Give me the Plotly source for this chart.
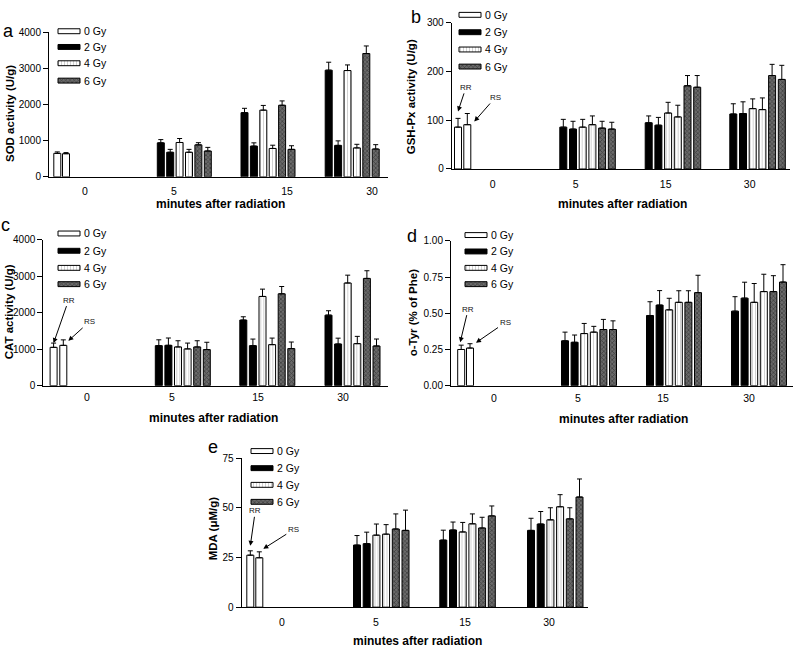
import plotly.graph_objects as go

W, H = 800, 661
FONT = "Liberation Sans, Arial, sans-serif"

# ---------------- data ----------------
time_labels = ["0", "5", "15", "30"]
dose_names = ["0 Gy", "2 Gy", "4 Gy", "6 Gy"]
# order for irradiated doses: [5 RR, 5 RS, 15 RR, 15 RS, 30 RR, 30 RS]

sod_0 = [650, 640]
sod_0_err = [40, 30]
sod_2 = [940, 680, 1775, 850, 2950, 870]
sod_2_err = [90, 80, 120, 90, 220, 125]
sod_4 = [950, 680, 1845, 785, 2940, 800]
sod_4_err = [110, 80, 130, 90, 155, 100]
sod_6 = [885, 715, 1980, 760, 3410, 770]
sod_6_err = [60, 100, 120, 100, 210, 120]

gsh_0 = [86, 91]
gsh_0_err = [18, 23]
gsh_2 = [86, 82, 95, 90, 113, 114]
gsh_2_err = [16, 16, 14, 16, 21, 24]
gsh_4 = [86, 91, 115, 107, 124, 122]
gsh_4_err = [16, 18, 22, 24, 20, 24]
gsh_6 = [84, 82, 171, 168, 192, 184]
gsh_6_err = [14, 14, 21, 24, 23, 29]

cat_0 = [1050, 1105]
cat_0_err = [117, 150]
cat_2 = [1097, 1106, 1798, 1097, 1933, 1142]
cat_2_err = [160, 200, 90, 180, 120, 160]
cat_4 = [1061, 1007, 2445, 1124, 2813, 1151]
cat_4_err = [170, 160, 200, 180, 215, 200]
cat_6 = [1061, 989, 2517, 1016, 2939, 1088]
cat_6_err = [170, 200, 200, 180, 210, 190]

tyr_0 = [0.25, 0.26]
tyr_0_err = [0.03, 0.03]
tyr_2 = [0.31, 0.30, 0.485, 0.557, 0.515, 0.605]
tyr_2_err = [0.06, 0.05, 0.095, 0.10, 0.10, 0.11]
tyr_4 = [0.36, 0.37, 0.524, 0.576, 0.576, 0.65]
tyr_4_err = [0.07, 0.04, 0.08, 0.08, 0.13, 0.12]
tyr_6 = [0.388, 0.388, 0.576, 0.643, 0.65, 0.716]
tyr_6_err = [0.07, 0.06, 0.08, 0.12, 0.11, 0.12]

mda_0 = [26.2, 24.9]
mda_0_err = [2.2, 3.0]
mda_2 = [31.3, 32.0, 33.8, 38.9, 38.7, 41.9]
mda_2_err = [4.8, 5.8, 5.0, 4.0, 6.1, 6.3]
mda_4 = [36.3, 36.8, 37.9, 42.0, 44.0, 50.6]
mda_4_err = [5.6, 4.8, 4.8, 5.0, 6.1, 6.1]
mda_6 = [39.4, 38.7, 39.9, 46.0, 44.5, 55.5]
mda_6_err = [7.6, 10.2, 5.4, 5.0, 5.6, 9.1]

# ---------------- styles ----------------
STYLES = {
    "0 Gy": dict(color="white"),
    "2 Gy": dict(color="black"),
    "4 Gy": dict(color="white", pattern=dict(shape="|", fgcolor="#9a9a9a", bgcolor="white",
                                              size=3, solidity=0.3)),
    "6 Gy": dict(color="#4a4a4a", pattern=dict(shape="x", fgcolor="#151515", bgcolor="#6a6a6a",
                                                size=3, solidity=0.45)),
}

# ---------------- panel layout (pixels) ----------------
panels = [
    dict(key="a", title="SOD activity (U/g)", d0=sod_0, e0=sod_0_err,
         d=[sod_2, sod_4, sod_6], e=[sod_2_err, sod_4_err, sod_6_err],
         ox=49, w=339, ytop=26.7, ybot=174, ymax=4000, dtick=1000, fmt="d",
         g0=[8.3, 17], starts=[111.8, 195.5, 279.7], pitch=9.4, ticks=[36, 125, 238, 323],
         ticklen=5, letter=(8.5, 25), ytit=(10, 110), xtit=(220, 202),
         leg=(58, [25.7, 41.7, 58.3, 76]), arrows=None),
    dict(key="b", title="GSH-Px activity (U/g)", d0=gsh_0, e0=gsh_0_err,
         d=[gsh_2, gsh_4, gsh_6], e=[gsh_2_err, gsh_4_err, gsh_6_err],
         ox=451.7, w=338, ytop=17.3, ybot=166, ymax=300, dtick=100, fmt="d",
         g0=[6.3, 15.6], starts=[111.6, 197, 281.6], pitch=9.7, ticks=[41, 124, 214, 298],
         ticklen=5, letter=(416, 11), ytit=(411, 93), xtit=(622, 202),
         leg=(459, [9, 26.7, 44.3, 61.7]),
         arrows=[(0, 7, 8, -24), (7, -8, 21, -24)]),
    dict(key="c", title="CAT activity (U/g)", d0=cat_0, e0=cat_0_err,
         d=[cat_2, cat_4, cat_6], e=[cat_2_err, cat_4_err, cat_6_err],
         ox=43.3, w=344.7, ytop=238, ybot=386.7, ymax=4000, dtick=1000, fmt="d",
         g0=[10.3, 20], starts=[115.5, 200, 285.2], pitch=9.6, ticks=[43.7, 128.7, 214.7, 299.7],
         ticklen=2, letter=(5, 223), ytit=(9, 312), xtit=(213, 420),
         leg=(58, [231.7, 249.3, 266.7, 283.3]),
         arrows=[(0, 0, 15, -43), (5, -1, 21, -19)]),
    dict(key="d", title="o-Tyr (% of Phe)", d0=tyr_0, e0=tyr_0_err,
         d=[tyr_2, tyr_4, tyr_6], e=[tyr_2_err, tyr_4_err, tyr_6_err],
         ox=451, w=342, ytop=239.3, ybot=386.7, ymax=1.0, dtick=0.25, fmt=".2f",
         g0=[10.2, 19], starts=[114, 199, 284], pitch=9.6, ticks=[43, 127, 212, 298],
         ticklen=3, letter=(412, 234), ytit=(413, 313), xtit=(623, 421),
         leg=(465, [233.3, 250, 266.7, 283.3]),
         arrows=[(-1, 3, 8, -33), (6, 1, 29, -20)]),
    dict(key="e", title="MDA (\u03bcM/g)", d0=mda_0, e0=mda_0_err,
         d=[mda_2, mda_4, mda_6], e=[mda_2_err, mda_4_err, mda_6_err],
         ox=241.5, w=346.5, ytop=460.7, ybot=612.3, ymax=75, dtick=25, fmt="d",
         g0=[8.8, 17.8], starts=[115.5, 201.8, 289.5], pitch=9.7, ticks=[40.5, 134.5, 223.5, 307.5],
         ticklen=5, letter=(213, 449), ytit=(213, 532), xtit=(417, 647),
         leg=(251, [453.3, 470.7, 487.7, 505]),
         arrows=[(0, 5, 5, -35), (4, 3, 30, -19)]),
]

BAR_W = 7
fig = go.Figure()
layout = dict(width=W, height=H, margin=dict(l=0, r=0, t=0, b=0),
              paper_bgcolor="white", plot_bgcolor="rgba(0,0,0,0)",
              barmode="overlay", showlegend=False,
              font=dict(family=FONT, color="black", size=10))
annotations = []


def px2paper(x, y):
    return x / W, 1 - y / H


for i, p in enumerate(panels):
    n = i + 1
    xa = "x" if n == 1 else f"x{n}"
    ya = "y" if n == 1 else f"y{n}"
    fig.add_trace(go.Bar(
        x=p["g0"], y=p["d0"], width=BAR_W, xaxis=xa, yaxis=ya,
        marker=dict(line=dict(color="black", width=1), **STYLES["0 Gy"]),
        error_y=dict(type="data", array=p["e0"], arrayminus=[0] * len(p["e0"]), symmetric=False,
                     color="black", thickness=1, width=2.5),
        name="0 Gy"))
    for k, dose in enumerate(dose_names[1:]):
        xs = []
        for g in range(3):
            for r in range(2):
                xs.append(p["starts"][g] + (2 * k + r) * p["pitch"])
        fig.add_trace(go.Bar(
            x=xs, y=p["d"][k], width=BAR_W, xaxis=xa, yaxis=ya,
            marker=dict(line=dict(color="black", width=1), **STYLES[dose]),
            error_y=dict(type="data", array=p["e"][k], arrayminus=[0] * 6, symmetric=False,
                         color="black", thickness=1, width=2.5),
            name=dose))

    x0, x1 = p["ox"] / W, (p["ox"] + p["w"]) / W
    y0, y1 = 1 - p["ybot"] / H, 1 - p["ytop"] / H
    xkey = "xaxis" if n == 1 else f"xaxis{n}"
    ykey = "yaxis" if n == 1 else f"yaxis{n}"
    layout[xkey] = dict(domain=[x0, x1], anchor=ya, range=[0, p["w"]], showline=True,
                        linecolor="black", linewidth=1, showgrid=False, zeroline=False,
                        tickmode="array", tickvals=p["ticks"], ticktext=time_labels,
                        ticks="outside", ticklen=p["ticklen"], tickcolor="rgba(0,0,0,0)",
                        tickfont=dict(size=10.5, family=FONT, color="black"), fixedrange=True)
    tv = []
    v = 0.0
    while v <= p["ymax"] + 1e-9:
        tv.append(round(v, 4))
        v += p["dtick"]
    layout[ykey] = dict(domain=[y0, y1], anchor=xa, range=[0, p["ymax"]], showline=True,
                        linecolor="black", linewidth=1, showgrid=False, zeroline=False,
                        tickmode="array", tickvals=tv,
                        ticktext=[(f"{t:.2f}" if p["fmt"] == ".2f" else f"{int(t)}") for t in tv],
                        ticks="outside", ticklen=5, tickwidth=1, tickcolor="black",
                        tickfont=dict(size=10, family=FONT, color="black"), fixedrange=True)

    lx, ly = px2paper(*p["letter"])
    annotations.append(dict(text=p["key"], x=lx, y=ly, xref="paper", yref="paper",
                            showarrow=False, xanchor="center", yanchor="middle",
                            font=dict(size=18, family=FONT, color="black")))
    tx, ty = px2paper(*p["ytit"])
    annotations.append(dict(text=f"<b>{p['title']}</b>", x=tx, y=ty, xref="paper", yref="paper",
                            showarrow=False, textangle=-90, xanchor="center", yanchor="middle",
                            font=dict(size=11.5, family=FONT, color="black")))
    tx, ty = px2paper(*p["xtit"])
    annotations.append(dict(text="<b>minutes after radiation</b>", x=tx, y=ty, xref="paper",
                            yref="paper", showarrow=False, xanchor="center", yanchor="middle",
                            font=dict(size=12, family=FONT, color="black")))
    if p["arrows"]:
        for j, (dx, dy, ax, ay) in enumerate(p["arrows"]):
            annotations.append(dict(text=["RR", "RS"][j], x=p["g0"][j], y=p["d0"][j] + p["e0"][j],
                                    xref=xa, yref=ya, xshift=dx, yshift=dy, ax=ax, ay=ay,
                                    showarrow=True, arrowhead=2, arrowsize=1, arrowwidth=1,
                                    arrowcolor="black",
                                    font=dict(size=8, family=FONT, color="#111111")))

    lgx, rows = p["leg"]
    for k, dose in enumerate(dose_names):
        fig.add_trace(go.Bar(
            x=[22], base=[lgx], y=[rows[k]], width=5, orientation="h",
            xaxis="x6", yaxis="y6",
            marker=dict(line=dict(color="black", width=1), **STYLES[dose]),
            hoverinfo="skip", name=dose))
        tx, ty = px2paper(lgx + 24, rows[k])
        annotations.append(dict(text=dose, x=tx, y=ty, xref="paper", yref="paper",
                                showarrow=False, xanchor="left", yanchor="middle",
                                font=dict(size=10.5, family=FONT, color="black")))

layout["xaxis6"] = dict(domain=[0, 1], anchor="y6", range=[0, W], visible=False, fixedrange=True)
layout["yaxis6"] = dict(domain=[0, 1], anchor="x6", range=[H, 0], visible=False, fixedrange=True)
layout["annotations"] = annotations
fig.update_layout(**layout)
fig.write_html("out.html",
               post_script="document.body.style.margin='0';document.body.style.padding='0';",
               config={"displayModeBar": False})
